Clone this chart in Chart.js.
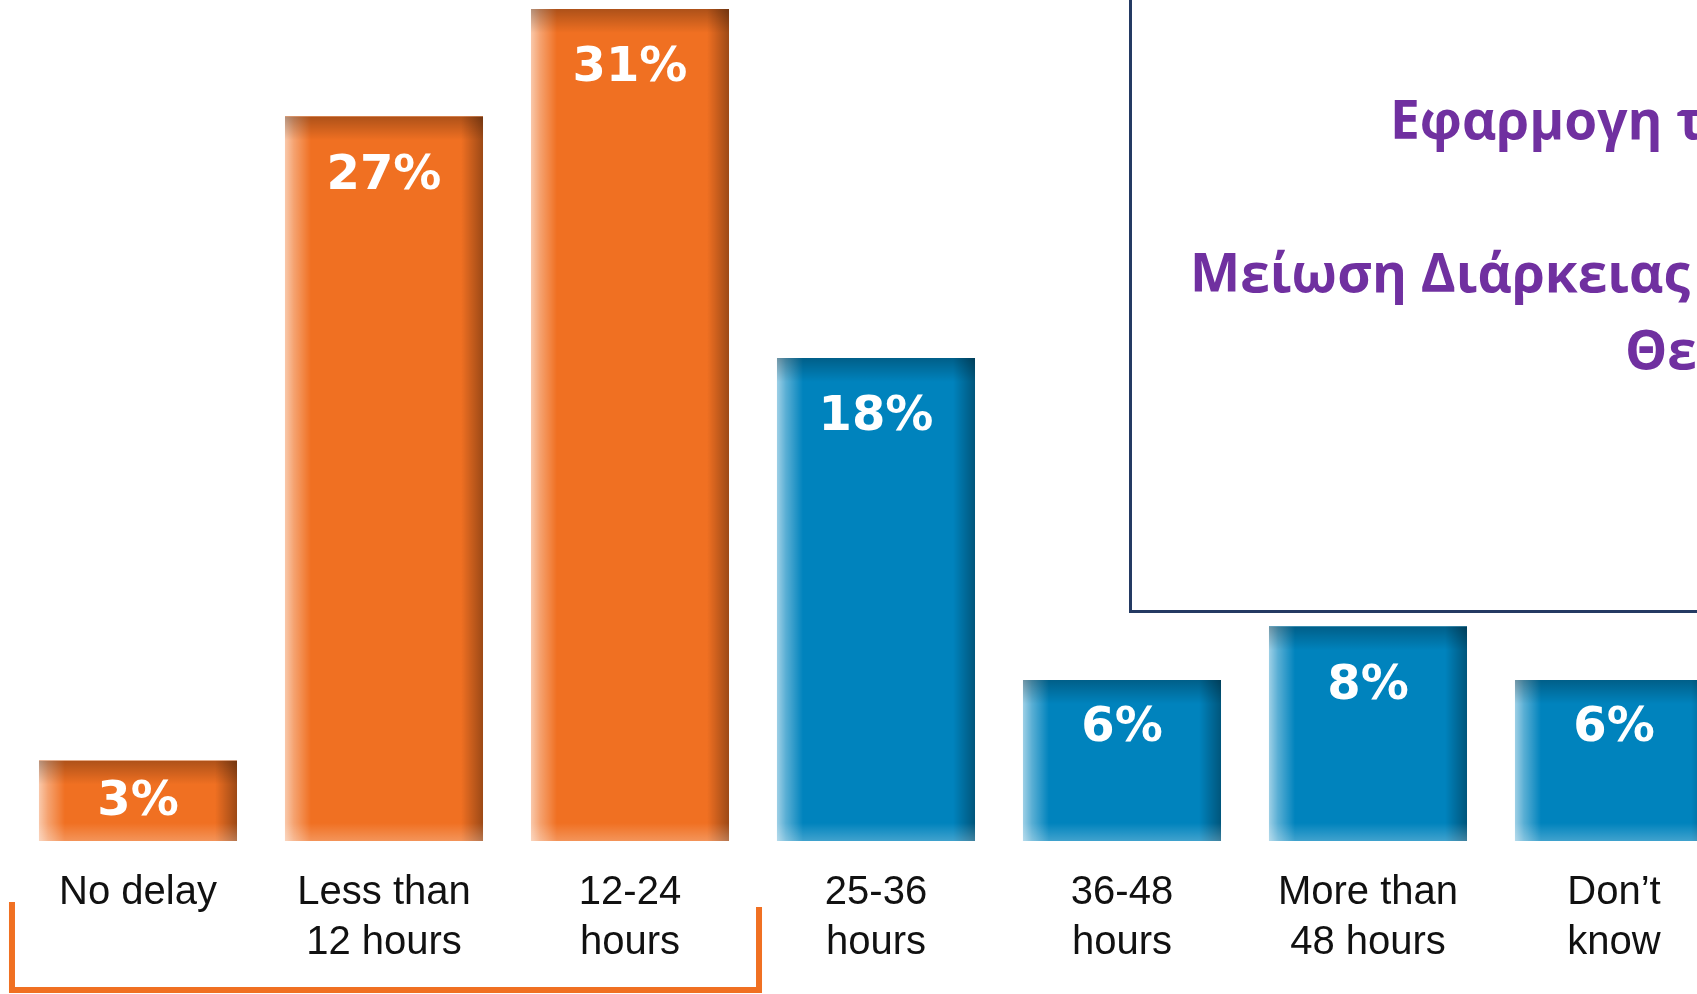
<!DOCTYPE html>
<html><head><meta charset="utf-8">
<script src="https://cdn.jsdelivr.net/npm/chart.js@4/dist/chart.umd.min.js"></script>
<style>
html,body{margin:0;padding:0;background:#fff;overflow:hidden;width:1697px;height:994px;position:relative;}
#wrap{position:absolute;left:0;top:0;width:1760px;height:994px;}
#box{position:absolute;left:1129px;top:-10px;width:900px;height:623px;border:3px solid #243a63;box-sizing:border-box;}
.t{position:absolute;white-space:nowrap;font-family:"Open Sans","Noto Sans",sans-serif;font-weight:700;color:#7030A0;line-height:1;}
</style></head>
<body>
<div id="wrap"><canvas id="c" width="1760" height="994"></canvas></div>
<div id="box"></div>
<div class="t" id="t1">Εφαρμογη του Προγράμματος</div>
<div class="t" id="t3">Μείωση Διάρκειας Αντιβιοτικής</div>
<div class="t" id="t4">Θεραπείας</div>
<script>
// ---- data ----
const categories = [["No delay"], ["Less than", "12 hours"], ["12-24", "hours"], ["25-36", "hours"], ["36-48", "hours"], ["More than", "48 hours"], ["Don\u2019t", "know"]];
const percentValues = [3, 27, 31, 18, 6, 8, 6];
const valueLabels = ["3%", "27%", "31%", "18%", "6%", "8%", "6%"];
const bracketedCount = 3; // first three categories are bracketed (orange)

// ---- styles ----
const ORANGE = "#F07022";
const BLUE = "#0083BD";
const barColors = percentValues.map((v, i) => i < bracketedCount ? ORANGE : BLUE);

// ---- headline text sizing ----
(function () {
  const ctx = document.createElement("canvas").getContext("2d");
  ctx.font = 'bold 100px "Open Sans"';
  const w = ctx.measureText("Μείωση Διάρκειας").width;
  const F = 100 * 500 / w;
  const base = 0.888 * F; // baseline offset inside line-height:1 box
  const place = (id, x, baseline) => {
    const el = document.getElementById(id);
    el.style.fontSize = F + "px";
    el.style.left = x + "px";
    el.style.top = (baseline - base) + "px";
  };
  place("t1", 1390, 139);
  place("t3", 1190, 292);
  place("t4", 1625, 369);
})();

const bevelPlugin = {
  id: "bevel",
  afterDatasetsDraw(chart) {
    const ctx = chart.ctx;
    const meta = chart.getDatasetMeta(0);
    meta.data.forEach((bar, i) => {
      const p = bar.getProps(["x", "y", "base", "width"], true);
      const l = p.x - p.width / 2, r = p.x + p.width / 2, t = p.y, b = p.base;
      ctx.save();
      ctx.beginPath(); ctx.rect(l, t, r - l, b - t); ctx.clip();
      let g = ctx.createLinearGradient(l, 0, l + 26, 0);
      g.addColorStop(0, "rgba(255,255,255,0.62)");
      g.addColorStop(0.35, "rgba(255,255,255,0.35)");
      g.addColorStop(1, "rgba(255,255,255,0)");
      ctx.fillStyle = g; ctx.fillRect(l, t, 26, b - t);
      g = ctx.createLinearGradient(r - 22, 0, r, 0);
      g.addColorStop(0, "rgba(0,0,0,0)");
      g.addColorStop(1, "rgba(0,0,0,0.35)");
      ctx.fillStyle = g; ctx.fillRect(r - 22, t, 22, b - t);
      g = ctx.createLinearGradient(0, t, 0, t + 24);
      g.addColorStop(0, "rgba(0,0,0,0.28)");
      g.addColorStop(1, "rgba(0,0,0,0)");
      ctx.fillStyle = g; ctx.fillRect(l, t, r - l, 24);
      g = ctx.createLinearGradient(0, b - 18, 0, b);
      g.addColorStop(0, "rgba(255,255,255,0)");
      g.addColorStop(1, "rgba(255,255,255,0.25)");
      ctx.fillStyle = g; ctx.fillRect(l, b - 18, r - l, 18);
      ctx.restore();
      // value label
      const h = b - t;
      const off = h < 100 ? h / 2 + 2 : Math.min(60, 0.25 * h + 8);
      ctx.save();
      ctx.fillStyle = "#ffffff";
      ctx.font = 'bold 48px "DejaVu Sans"';
      ctx.textAlign = "center";
      ctx.textBaseline = "middle";
      ctx.fillText(valueLabels[i], p.x, t + off);
      ctx.restore();
    });
  },
  afterDraw(chart) {
    const ctx = chart.ctx;
    const meta = chart.getDatasetMeta(0);
    const first = meta.data[0].getProps(["x", "width"], true);
    const last = meta.data[bracketedCount - 1].getProps(["x", "width"], true);
    const left = first.x - first.width / 2 - 27;
    const right = last.x + last.width / 2 + 30;
    ctx.save();
    ctx.strokeStyle = ORANGE;
    ctx.lineWidth = 6;
    ctx.lineJoin = "miter";
    ctx.beginPath();
    ctx.moveTo(left, chart.chartArea.bottom + 61);
    ctx.lineTo(left, 990);
    ctx.lineTo(right, 990);
    ctx.lineTo(right, chart.chartArea.bottom + 66);
    ctx.stroke();
    ctx.restore();
  }
};

new Chart(document.getElementById("c"), {
  type: "bar",
  data: {
    labels: categories,
    datasets: [{
      data: percentValues,
      backgroundColor: barColors,
      borderWidth: 0,
      barPercentage: 0.805,
      categoryPercentage: 1.0
    }]
  },
  options: {
    responsive: false,
    animation: false,
    devicePixelRatio: 1,
    layout: { padding: { left: 15, right: 23, top: 9, bottom: 0 } },
    plugins: { legend: { display: false }, tooltip: { enabled: false } },
    scales: {
      x: {
        grid: { display: false, drawTicks: false },
        border: { display: false },
        ticks: {
          color: "#111111",
          padding: 27,
          maxRotation: 0,
          autoSkip: false,
          font: { family: "Liberation Sans", size: 40, lineHeight: 1.25 }
        },
        afterFit(s) { s.height = 153; }
      },
      y: {
        display: false,
        min: 0,
        max: 31
      }
    }
  },
  plugins: [bevelPlugin]
});
</script>
</body></html>
